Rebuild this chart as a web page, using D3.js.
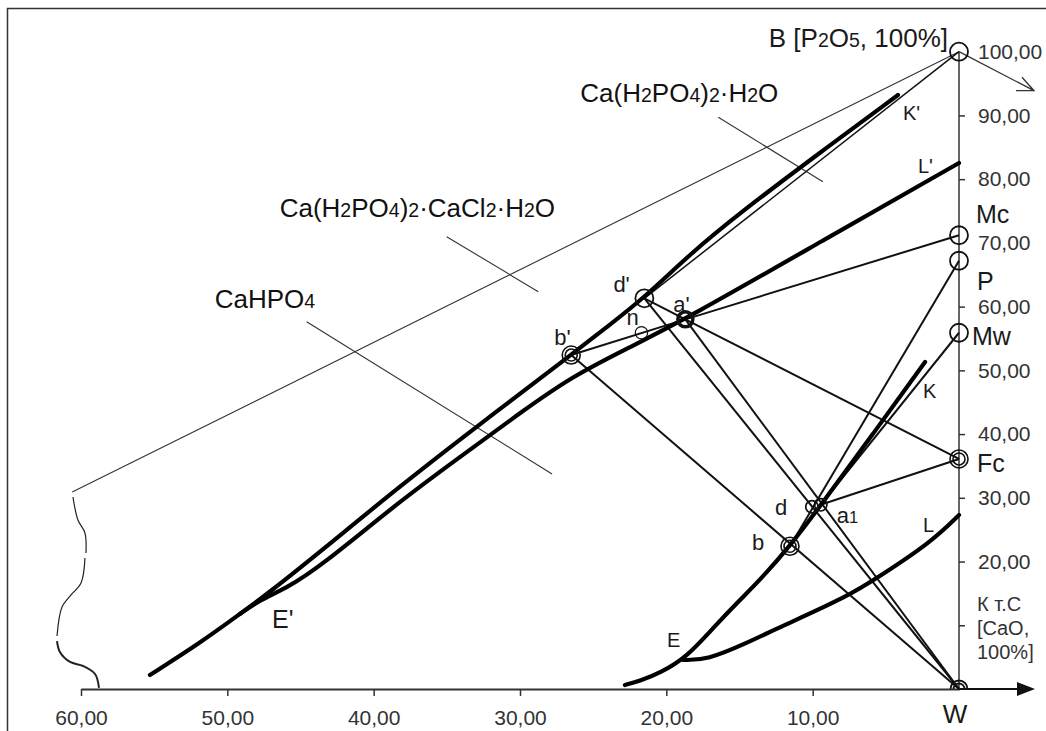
<!DOCTYPE html>
<html>
<head>
<meta charset="utf-8">
<script src="https://cdn.jsdelivr.net/npm/d3@7"></script>
<style>
  body { margin: 0; background: #fff; }
  svg { display: block; font-family: 'Liberation Sans', Arial, sans-serif; }
</style>
</head>
<body>
<div id="graf"></div>
<script>
// Diagrama de fases CaO - P2O5 - CaCl2 - H2O
//

// ---- datos ----
ticksX = [60, 50, 40, 30, 20, 10]
ticksY = [10, 20, 30, 40, 50, 60, 80, 90]
etiquetasY = [20, 30, 40, 50, 60, 70, 80, 90, 100]

// puntos sobre el eje (x = 0)
puntosEje = [
  { n: 'B', y: 100 },
  { n: 'Mc', y: 71.2 },
  { n: 'P', y: 67.2 },
  { n: 'Mw', y: 55.9 },
  { n: 'Fc', y: 36.1 },
  { n: 'W', y: 0 }
]

// puntos interiores
puntos = [
  { n: "d'", x: 21.5, y: 61.3 },
  { n: "a'", x: 18.7, y: 58.0 },
  { n: 'n', x: 21.7, y: 55.9 },
  { n: "b'", x: 26.5, y: 52.4 },
  { n: 'd', x: 10.05, y: 28.6 },
  { n: 'a1', x: 9.45, y: 28.9 },
  { n: 'b', x: 11.55, y: 22.4 }
]

// rectas entre puntos
conexiones = [
  ['B', "d'"], ['Mc', "a'"], ['P', 'b'], ['Mw', 'a1'], ['Fc', "a'"], ['Fc', 'a1'],
  ["b'", "a'"], ["d'", "a'"], ["b'", 'W'], ["d'", 'W'], ["a'", 'W']
]

// curvas de saturacion
curvaSup = [[4.17, 93.21], [10.18, 83.0], [14.97, 74.7], [18.38, 68.26], [21.53, 61.35],
  [24.06, 56.8], [26.52, 52.41], [32.73, 41.58], [38.2, 31.85], [43.67, 21.5],
  [47.09, 15.22], [49.14, 11.77], [51.87, 7.22], [55.29, 2.2]]
curvaInf = [[0, 82.54], [9.36, 70.3], [18.66, 58.06], [22.48, 53.66], [26.52, 48.96],
  [30.0, 43.31], [34.1, 36.4], [38.2, 29.5], [43.67, 19.14], [46.06, 15.69],
  [47.77, 13.97], [49.14, 11.77]]
curvaK = [[2.32, 51.31], [5.88, 40.01], [9.43, 28.87], [11.55, 22.44], [13.6, 17.1],
  [14.97, 13.97], [16.81, 9.57], [18.59, 5.02], [20.43, 2.51], [21.8, 1.26], [22.83, 0.63]]
curvaL = [[0, 27.3], [1.98, 22.91], [5.4, 17.73], [7.65, 14.44], [12.23, 9.73],
  [14.49, 7.22], [17.22, 4.55], [18.86, 4.55]]

lineaLarga = [[0, 100], [60.6, 30.9]]
llave = [
  [[60.55, 30.13], [60.21, 26.52], [59.73, 24.48], [59.66, 21.34]],
  [[59.73, 20.56], [60.0, 16.63], [60.75, 14.59], [61.3, 12.87], [61.64, 8.32]],
  [[61.64, 7.53], [61.44, 5.81], [60.75, 4.24], [59.86, 3.61], [59.04, 2.35], [58.77, 0.16]]
]

// lineas de las etiquetas de fases
lideres = [
  [[16.45, 89.7], [9.3, 79.6]],
  [[35.01, 70.97], [28.75, 62.34]],
  [[44.58, 57.64], [27.81, 33.74]]
]
fases = ['Ca(H_2PO_4)_2·H_2O', 'Ca(H_2PO_4)_2·CaCl_2·H_2O', 'CaHPO_4']

// ---- area ----
graf = d3.select('#graf')
ancho_total = 1046
alto_total = 731

svg = graf.append('svg')
  .attr('width', ancho_total)
  .attr('height', alto_total)

// marco
svg.append('rect')
  .attr('x', 7.5).attr('y', 8.5)
  .attr('width', 1100).attr('height', 800)
  .attr('fill', 'none').attr('stroke', '#333').attr('stroke-width', 1.5)

x = d3.scaleLinear().domain([60, 0]).range([81, 959])
y = d3.scaleLinear().domain([0, 100]).range([689, 51.7])

linea = d3.line().x(d => x(d[0])).y(d => y(d[1]))
curva = d3.line().x(d => x(d[0])).y(d => y(d[1])).curve(d3.curveCatmullRom.alpha(0.5))
suave = d3.line().x(d => x(d[0])).y(d => y(d[1])).curve(d3.curveBasis)

coma = d => d3.format('.2f')(d).replace('.', ',')

// ---- ejes ----
xAxis = d3.axisBottom(x)
  .tickValues(ticksX)
  .tickSize(7)
  .tickPadding(14)
  .tickSizeOuter(0)
  .tickFormat(coma)

ejeX = svg.append('g')
  .attr('transform', `translate(0,${y(0)})`)
  .call(xAxis)
ejeX.select('.domain').attr('stroke', '#333').attr('stroke-width', 2)
ejeX.selectAll('.tick line').attr('stroke', '#333').attr('stroke-width', 1.5)
ejeX.selectAll('text').attr('font-size', 21).attr('fill', '#333').attr('font-family', null)

// prolongacion del eje x con flecha
svg.append('line')
  .attr('x1', x(0)).attr('y1', y(0))
  .attr('x2', x(0) + 60).attr('y2', y(0))
  .attr('stroke', '#111').attr('stroke-width', 2)
svg.append('path')
  .attr('d', `M${x(0) + 76},${y(0)} L${x(0) + 58},${y(0) - 7} L${x(0) + 58},${y(0) + 7} Z`)
  .attr('fill', '#111')

// eje y
svg.append('line')
  .attr('x1', x(0)).attr('y1', y(0))
  .attr('x2', x(0)).attr('y2', y(100))
  .attr('stroke', '#333').attr('stroke-width', 1.5)

yTicksG = svg.append('g')
  .attr('transform', `translate(${x(0)},0)`)
  .call(d3.axisRight(y).tickValues(ticksY).tickSize(6).tickFormat(''))
yTicksG.select('.domain').remove()
yTicksG.selectAll('.tick line').attr('stroke', '#333').attr('stroke-width', 1.5)

yLab = svg.append('g')
  .attr('transform', `translate(${x(0)},0)`)
  .call(d3.axisRight(y).tickValues(etiquetasY).tickSize(0).tickPadding(19).tickFormat(coma))
yLab.select('.domain').remove()
yLab.selectAll('text').attr('font-size', 21).attr('fill', '#333').attr('font-family', null)

// flecha desde B
bx = x(0), by = y(100)
svg.append('path')
  .attr('d', `M${bx},${by} L${bx + 75},${by + 39} M${bx + 63},${by + 25.6} L${bx + 75},${by + 39} L${bx + 57},${by + 39}`)
  .attr('fill', 'none').attr('stroke', '#333').attr('stroke-width', 1.3)

// leyenda del eje
leyendaY = ['К т.С', '[CaO,', '100%]']
leyendaY.forEach((t, i) => {
  svg.append('text')
    .attr('x', x(0) + 18)
    .attr('y', y(10) - 14 + i * 24)
    .attr('font-size', 20)
    .attr('fill', '#333')
    .text(t)
})

// ---- lineas finas ----
svg.append('path').attr('d', linea(lineaLarga))
  .attr('fill', 'none').attr('stroke', '#333').attr('stroke-width', 1.1)

llave.forEach((s, i) => {
  svg.append('path').attr('d', curva(s))
    .attr('fill', 'none').attr('stroke', '#222')
    .attr('stroke-width', i == 2 ? 2 : 1.2)
})

lideres.forEach(s => {
  svg.append('path').attr('d', linea(s))
    .attr('fill', 'none').attr('stroke', '#333').attr('stroke-width', 1.1)
})

// todos los puntos en un mapa
todos = {}
puntosEje.forEach(p => todos[p.n] = { x: 0, y: p.y })
puntos.forEach(p => todos[p.n] = { x: p.x, y: p.y })

svg.append('g')
  .selectAll('line')
  .data(conexiones)
  .enter()
  .append('line')
    .attr('x1', d => x(todos[d[0]].x))
    .attr('y1', d => y(todos[d[0]].y))
    .attr('x2', d => x(todos[d[1]].x))
    .attr('y2', d => y(todos[d[1]].y))
    .attr('stroke', '#111')
    .attr('stroke-width', d => d[0] == 'B' ? 1.5 : 2)

// ---- curvas gruesas ----
;[curvaSup, curvaInf, curvaK, curvaL].forEach(c => {
  svg.append('path').attr('d', suave(c))
    .attr('fill', 'none')
    .attr('stroke', '#000')
    .attr('stroke-width', 4.2)
    .attr('stroke-linecap', 'round')
    .attr('stroke-linejoin', 'round')
})

// ---- circulos ----
estilo = {
  B: 'simple', Mc: 'simple', P: 'simple', Mw: 'simple', Fc: 'doble', W: 'medio',
  "d'": 'simple', "a'": 'grueso', n: 'chico', "b'": 'doble', d: 'chico', a1: 'chico', b: 'doble'
}

Object.keys(todos).forEach(k => {
  p = todos[k]
  cx = x(p.x), cy = y(p.y)
  e = estilo[k]
  if (e == 'medio') {
    ;[8.5, 5.5].forEach(r => {
      pa = d3.path()
      pa.arc(cx, cy, r, Math.PI, 2 * Math.PI)
      svg.append('path').attr('d', pa.toString())
        .attr('fill', 'none').attr('stroke', '#111').attr('stroke-width', 1.8)
    })
    return
  }
  radios = e == 'doble' ? [9, 6] : e == 'chico' ? [6.2] : e == 'grueso' ? [7.5] : [9]
  radios.forEach(r => {
    svg.append('circle')
      .attr('cx', cx).attr('cy', cy).attr('r', r)
      .attr('fill', 'none')
      .attr('stroke', '#111')
      .attr('stroke-width', e == 'grueso' ? 3.5 : e == 'chico' ? (k == 'n' ? 1.2 : 1.7) : e == 'doble' ? 1.6 : 1.8)
  })
})

// ---- etiquetas ----
function escribe(sel, s, size) {
  // '_' marca un subindice
  s.split(/(_\d)/).forEach(t => {
    if (t.startsWith('_')) sel.append('tspan').attr('font-size', size * 0.75).text(t.slice(1))
    else if (t) sel.append('tspan').text(t)
  })
}

// desplazamientos de las etiquetas de los puntos
desp = {
  B: [-11, -5, 'end', 26, 'B [P_2O_5, 100%]'],
  Mc: [17, -12, 'start', 25, 'Mc'],
  P: [18, 29, 'start', 25, 'P'],
  Mw: [13, 12, 'start', 25, 'Mw'],
  Fc: [18, 13, 'start', 25, 'Fc'],
  W: [-4, 34, 'middle', 26, 'W'],
  "d'": [-31, -6, 'start', 22, "d'"],
  "a'": [-12, -7, 'start', 22, "a'"],
  n: [-15, -8, 'start', 22, 'n'],
  "b'": [-17, -10, 'start', 22, "b'"],
  d: [-37, 8, 'start', 22, 'd'],
  a1: [16, 18, 'start', 22, 'a_1'],
  b: [-38, 4, 'start', 22, 'b']
}

Object.keys(desp).forEach(k => {
  p = todos[k]
  o = desp[k]
  t = svg.append('text')
    .attr('x', x(p.x) + o[0])
    .attr('y', y(p.y) + o[1])
    .attr('text-anchor', o[2])
    .attr('font-size', o[3])
    .attr('fill', '#1a1a1a')
  escribe(t, o[4], o[3])
})

// etiquetas de curvas, relativas a un extremo de cada curva
etiqCurvas = [
  [curvaSup[0], 5, 25, "K'", 20],
  [curvaInf[0], -41, 10, "L'", 20],
  [curvaK[0], -2, 36, 'K', 20],
  [curvaL[0], -36, 17, 'L', 20],
  [curvaL[curvaL.length - 1], -16, -13, 'E', 20],
  [curvaInf[curvaInf.length - 2], 12, 28, "E'", 25]
]
etiqCurvas.forEach(c => {
  svg.append('text')
    .attr('x', x(c[0][0]) + c[1])
    .attr('y', y(c[0][1]) + c[2])
    .attr('font-size', c[4])
    .attr('fill', '#1a1a1a')
    .text(c[3])
})

// nombres de las fases, relativos al inicio de su linea
despFases = [[-138, -15], [-167, -20], [-92, -14]]
fases.forEach((f, i) => {
  s = lideres[i][0]
  t = svg.append('text')
    .attr('x', x(s[0]) + despFases[i][0])
    .attr('y', y(s[1]) + despFases[i][1])
    .attr('font-size', 26)
    .attr('fill', '#111')
  escribe(t, f, 26)
})
</script>
</body>
</html>
